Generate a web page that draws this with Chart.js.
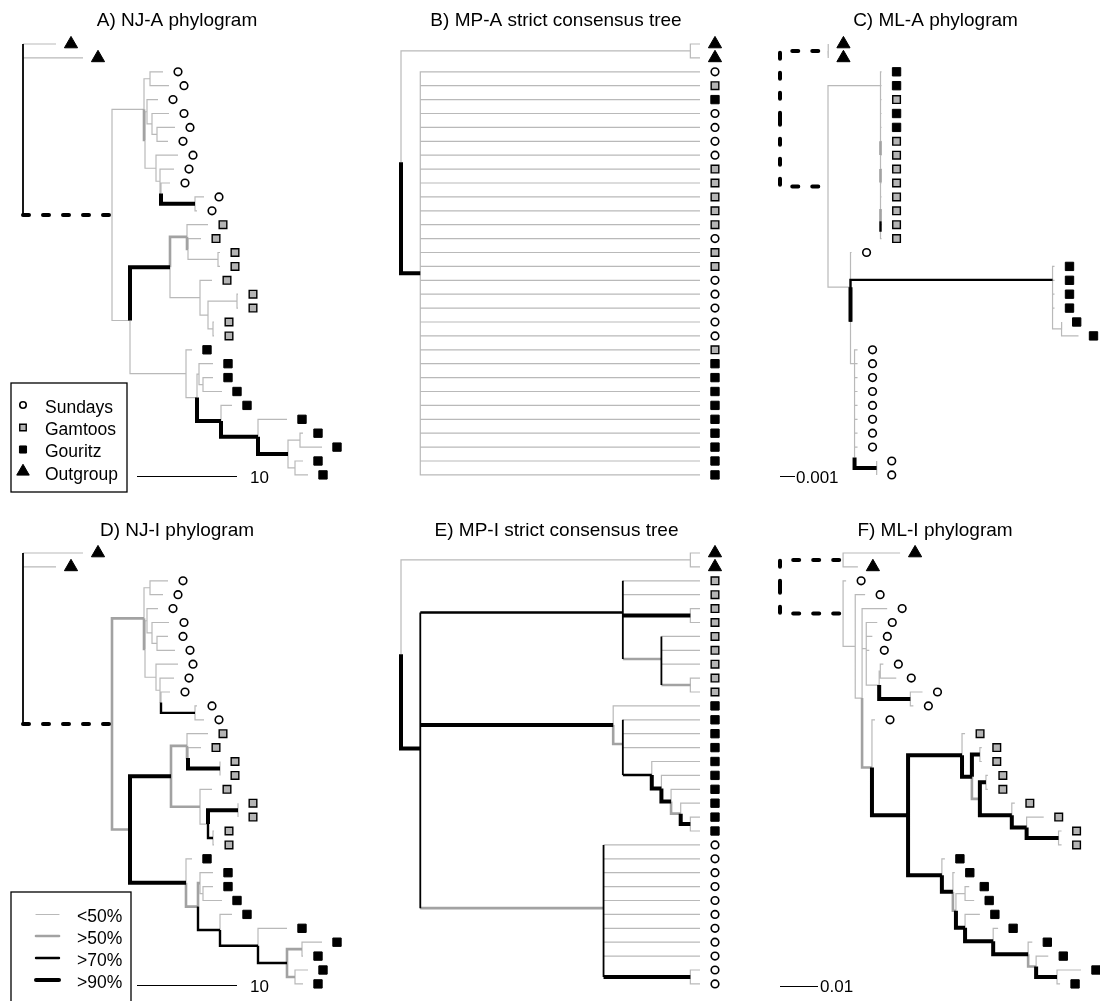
<!DOCTYPE html>
<html>
<head>
<meta charset="utf-8">
<title>Phylogenetic trees</title>
<script src="https://cdn.jsdelivr.net/npm/chart.js@4.4.1/dist/chart.umd.min.js"></script>
<style>
  html, body { margin: 0; padding: 0; background: #ffffff; }
  #figure { position: relative; width: 1100px; height: 1001px; overflow: hidden; background: #ffffff; }
  #figure canvas { position: absolute; }
</style>
</head>
<body>
<div id="figure"></div>
<script>
// ---------------------------------------------------------------------------
// Tree data.
//   tip           = [group, branchLength]
//   internal node = [support, branchLength, [children]]
// support classes: 0 = <50 %, 1 = >50 %, 2 = >70 %, 3 = >90 %,
// CUT = branch shortened for display (drawn dashed).
// MP consensus trees are drawn as cladograms, so their lengths are unused.
// ---------------------------------------------------------------------------
const CUT = 4;

const groupKeys = ['Sun', 'Gam', 'Gou', 'Out'];
const groupLabels = ['Sundays', 'Gamtoos', 'Gouritz', 'Outgroup'];
const supportLabels = ['<50%', '>50%', '>70%', '>90%'];

const panelTitles = [
  'A) NJ-A phylogram',
  'B) MP-A strict consensus tree',
  'C) ML-A phylogram',
  'D) NJ-I phylogram',
  'E) MP-I strict consensus tree',
  'F) ML-I phylogram'
];
const scaleBarLengths = [10, null, 0.001, 10, null, 0.01];
const scaleBarLabels = ['10', null, '0.001', '10', null, '0.01'];

// A) NJ, mtDNA (branch lengths in substitutions)
const treeNJA = [0, 0, [
  ['Out', 3.3],
  ['Out', 6.0],
  [CUT, 8.9, [
    [0, 3.2, [
      [0, 0.6, [['Sun', 1.3], ['Sun', 1.9]]],
      [1, 0.1, [
        [0, 0.2, [
          ['Sun', 1.1],
          [0, 0.5, [
            ['Sun', 1.7],
            [0, 0.5, [['Sun', 1.8], ['Sun', 1.1]]]
          ]]
        ]],
        [0, 1.1, [
          ['Sun', 2.2],
          [0, 0.4, [
            ['Sun', 1.4],
            [0, 0.1, [
              ['Sun', 0.9],
              [3, 3.4, [['Sun', 0.9], ['Sun', 0.2]]]
            ]]
          ]]
        ]]
      ]]
    ]],
    [0, 1.8, [
      [3, 4.0, [
        [1, 1.7, [
          ['Gam', 2.1],
          [1, 0.1, [
            ['Gam', 1.3],
            [0, 3.0, [['Gam', 0.2], ['Gam', 0.2]]]
          ]]
        ]],
        [0, 3.0, [
          ['Gam', 1.2],
          [0, 0.8, [
            [0, 2.9, [['Gam', 0.1], ['Gam', 0.1]]],
            [0, 0.5, [['Gam', 0.1], ['Gam', 0.1]]]
          ]]
        ]]
      ]],
      [0, 5.6, [
        ['Gou', 0.6],
        [0, 1.1, [
          [0, 0.2, [
            ['Gou', 1.4],
            [0, 0.4, [['Gou', 1.0], ['Gou', 1.9]]]
          ]],
          [3, 2.4, [
            ['Gou', 1.1],
            [3, 3.7, [
              ['Gou', 2.9],
              [3, 3.0, [
                [0, 1.2, [['Gou', 0.3], ['Gou', 2.2]]],
                [0, 0.7, [['Gou', 0.8], ['Gou', 1.3]]]
              ]]
            ]]
          ]]
        ]]
      ]]
    ]]
  ]]
]];

// B) MP strict consensus, mtDNA
const treeMPA = [0, 0, [
  [0, 0, [['Out'], ['Out']]],
  [3, 0, [
    ['Sun'], ['Gam'], ['Gou'], ['Sun'], ['Sun'], ['Sun'], ['Sun'], ['Gam'], ['Gam'], ['Gam'],
    ['Gam'], ['Gam'], ['Sun'], ['Gam'], ['Gam'], ['Sun'], ['Sun'], ['Sun'], ['Sun'], ['Sun'],
    ['Gam'], ['Gou'], ['Gou'], ['Gou'], ['Gou'], ['Gou'], ['Gou'], ['Gou'], ['Gou'], ['Gou']
  ]]
]];

// C) ML, mtDNA (substitutions per site)
const treeMLA = [0, 0, [
  [CUT, 0.0032, [['Out', 0.00003], ['Out', 0.00003]]],
  [CUT, 0.0032, [
    [0, 0.0035, [['Gou', 0.00007], [0, 0, [['Gou', 0.00007], [0, 0, [['Gam', 0.00007], [0, 0, [['Gou', 0.00007],
      [0, 0, [['Gou', 0.00007], [1, 0, [['Gam', 0.00007], [0, 0, [['Gam', 0.00007], [1, 0, [['Gam', 0.00007],
      [0, 0, [['Gam', 0.00007], [0, 0, [['Gam', 0.00007], [1, 0, [['Gam', 0.00007],
      [2, 0, [['Gam', 0.00007], ['Gam', 0.00007]]] ]] ]] ]] ]] ]] ]] ]] ]] ]] ]] ]],
    [0, 0.0015, [
      ['Sun', 0.00007],
      [3, 0, [
        [2, 0.01347, [['Gou', 0.00013], [0, 0, [['Gou', 0.00013], [0, 0, [['Gou', 0.00013], [0, 0, [['Gou', 0.00013],
          [0, 0.0006, [['Gou', 0.00001], ['Gou', 0.00113]]] ]] ]] ]] ]],
        [0, 0.00027, [['Sun', 0.0002], [0, 0, [['Sun', 0.0002], [0, 0, [['Sun', 0.0002], [0, 0, [['Sun', 0.0002],
          [0, 0, [['Sun', 0.0002], [0, 0, [['Sun', 0.0002], [0, 0, [['Sun', 0.0002], [0, 0, [['Sun', 0.0002],
          [3, 0.00147, [['Sun', 0.00001], ['Sun', 0.00001]]] ]] ]] ]] ]] ]] ]] ]] ]]
      ]]
    ]]
  ]]
]];

// D) NJ, nuclear intron
const treeNJI = [0, 0, [
  ['Out', 6.0],
  ['Out', 3.3],
  [CUT, 8.9, [
    [1, 3.2, [
      [0, 0.6, [['Sun', 1.8], ['Sun', 1.3]]],
      [1, 0.1, [
        [0, 0.2, [
          ['Sun', 1.1],
          [0, 0.5, [
            ['Sun', 1.7],
            [0, 0.5, [['Sun', 1.1], ['Sun', 1.8]]]
          ]]
        ]],
        [0, 1.1, [
          ['Sun', 2.2],
          [0, 0.4, [
            ['Sun', 1.4],
            [0, 0.1, [
              ['Sun', 0.9],
              [2, 3.4, [['Sun', 0.2], ['Sun', 0.9]]]
            ]]
          ]]
        ]]
      ]]
    ]],
    [1, 1.8, [
      [3, 4.1, [
        [1, 1.6, [
          ['Gam', 2.1],
          [1, 0.1, [
            ['Gam', 1.3],
            [3, 3.2, [['Gam', 0.0], ['Gam', 0.0]]]
          ]]
        ]],
        [1, 2.9, [
          ['Gam', 1.2],
          [0, 0.8, [
            [3, 3.0, [['Gam', 0.0], ['Gam', 0.0]]],
            [2, 0.5, [['Gam', 0.1], ['Gam', 0.1]]]
          ]]
        ]]
      ]],
      [3, 5.6, [
        ['Gou', 0.6],
        [1, 1.2, [
          [1, 0.2, [
            ['Gou', 1.3],
            [0, 0.3, [['Gou', 1.0], ['Gou', 1.9]]]
          ]],
          [2, 2.2, [
            ['Gou', 1.2],
            [2, 3.8, [
              ['Gou', 2.9],
              [2, 2.9, [
                [1, 1.5, [['Gou', 2.0], ['Gou', 0.1]]],
                [1, 0.8, [['Gou', 1.3], ['Gou', 0.8]]]
              ]]
            ]]
          ]]
        ]]
      ]]
    ]]
  ]]
]];

// E) MP strict consensus, nuclear intron
const treeMPI = [0, 0, [
  [0, 0, [['Out'], ['Out']]],
  [3, 0, [
    [2, 0, [
      ['Gam'], ['Gam'],
      [3, 0, [['Gam'], ['Gam']]],
      [1, 0, [['Gam'], ['Gam'], ['Gam'], [1, 0, [['Gam'], ['Gam']]]]]
    ]],
    [3, 0, [
      ['Gou'],
      [1, 0, [
        ['Gou'], ['Gou'], ['Gou'],
        [2, 0, [['Gou'], [3, 0, [['Gou'], [3, 0, [['Gou'], [1, 0, [['Gou'], [3, 0, [['Gou'], ['Gou']]] ]] ]] ]] ]]
      ]]
    ]],
    [1, 0, [
      ['Sun'], ['Sun'], ['Sun'], ['Sun'], ['Sun'], ['Sun'], ['Sun'], ['Sun'], ['Sun'],
      [3, 0, [['Sun'], ['Sun']]]
    ]]
  ]]
]];

// F) ML, nuclear intron (substitutions per site)
const treeMLI = [0, 0, [
  [CUT, 0.0166, [['Out', 0.015], ['Out', 0.0039]]],
  [CUT, 0.0166, [
    ['Sun', 0.0008],
    [0, 0.0032, [
      ['Sun', 0.0026],
      [0, 0.0018, [
        [0, 0, [
          ['Sun', 0.0066],
          [0, 0.0011, [
            [0, 0, [['Sun', 0.0029], ['Sun', 0.0016]]],
            [0, 0, [
              ['Sun', 0.0008],
              [0, 0.0034, [
                [0, 0.0003, [['Sun', 0.0008], ['Sun', 0.0042]]],
                [3, 0.0082, [['Sun', 0.0032], ['Sun', 0.0008]]]
              ]]
            ]]
          ]]
        ]],
        [1, 0.0026, [
          ['Sun', 0.0008],
          [3, 0.0095, [
            [3, 0.0142, [
              ['Gam', 0.0008],
              [3, 0.0026, [
                [3, 0.0021, [['Gam', 0.0005], ['Gam', 0.0005]]],
                [1, 0.0021, [
                  [3, 0.0016, [['Gam', 0.0005], ['Gam', 0.0005]]],
                  [3, 0.0084, [
                    ['Gam', 0.0008],
                    [3, 0.0039, [
                      ['Gam', 0.0045],
                      [3, 0.0084, [['Gam', 0.0008], ['Gam', 0.0008]]]
                    ]]
                  ]]
                ]]
              ]]
            ]],
            [3, 0.0089, [
              ['Gou', 0.0008],
              [3, 0.0029, [
                ['Gou', 0.0005],
                [1, 0.0008, [
                  [0, 0.0024, [['Gou', 0.0011], ['Gou', 0.0024]]],
                  [3, 0.0024, [
                    ['Gou', 0.0039],
                    [3, 0.0074, [
                      ['Gou', 0.0013],
                      [3, 0.0092, [
                        ['Gou', 0.0011],
                        [1, 0.0021, [
                          ['Gou', 0.0032],
                          [3, 0.0055, [['Gou', 0.0063], ['Gou', 0.0008]]]
                        ]]
                      ]]
                    ]]
                  ]]
                ]]
              ]]
            ]]
          ]]
        ]]
      ]]
    ]]
  ]]
]];

// ---------------------------------------------------------------------------
// Styles and page layout
// ---------------------------------------------------------------------------
const FONT = '"Liberation Sans", Arial, Helvetica, sans-serif';
const TIP_STEP = 13.9;     // vertical spacing between tips, px
const MARK_GAP = 15;       // gap between a branch tip and its symbol, px

const EDGE_STYLE = {
  0:    { color: '#b9b9b9', width: 1.2 },
  1:    { color: '#a2a2a2', width: 2.6 },
  2:    { color: '#000000', width: 2.4 },
  3:    { color: '#000000', width: 4.0 },
  4:    { color: '#000000', width: 4.0, dash: [6, 14], cap: 'round' },
  poly: { color: '#000000', width: 1.8 }
};
const EDGE_ORDER = { 0: 6, 1: 5, poly: 4, 2: 3, 3: 2, 4: 1 };

const MARK_STYLE = {
  Sun: { shape: 'circle',   radius: 3.8, fill: '#ffffff', stroke: '#000000', bw: 1.6 },
  Gam: { shape: 'rect',     radius: 5.4, fill: '#b4b4b4', stroke: '#000000', bw: 1.4 },
  Gou: { shape: 'rect',     radius: 5.9, fill: '#000000', stroke: '#000000', bw: 1 },
  Out: { shape: 'triangle', radius: 7.6, fill: '#000000', stroke: '#000000', bw: 1 }
};

const PANELS = [
  { tree: treeNJA, left: 0,   top: 0,   w: 370, h: 500, rootPx: 23,  pxPerUnit: 10,    tip0: 44,
    titleX: 177,   titleY: 26,    legend: 'groups',
    bar: { x: 137, y: 476, labelX: 250, labelY: 482.5 } },
  { tree: treeMPA, cladogram: true, left: 370, top: 0, w: 370, h: 500, rootPx: 401, pxPerUnit: 9.645, tip0: 44,
    titleX: 556,   titleY: 26 },
  { tree: treeMLA, left: 740, top: 0,   w: 360, h: 500, rootPx: 780, pxPerUnit: 15000, tip0: 44,
    titleX: 935.5, titleY: 26,
    bar: { x: 780, y: 476, labelX: 796, labelY: 483 } },
  { tree: treeNJI, left: 0,   top: 500, w: 370, h: 501, rootPx: 23,  pxPerUnit: 10,    tip0: 553,
    titleX: 177,   titleY: 535.5, legend: 'support',
    bar: { x: 137, y: 985, labelX: 250, labelY: 992 } },
  { tree: treeMPI, cladogram: true, left: 370, top: 500, w: 370, h: 501, rootPx: 401, pxPerUnit: 9.645, tip0: 553,
    titleX: 556.5, titleY: 535.5 },
  { tree: treeMLI, left: 740, top: 500, w: 360, h: 501, rootPx: 780, pxPerUnit: 3800,  tip0: 553,
    titleX: 935,   titleY: 535.5,
    bar: { x: 780, y: 986, labelX: 820, labelY: 992 } }
];

// ---------------------------------------------------------------------------
// Tree layout: tips get consecutive rows; a node sits at the mean row of its
// children. Phylograms use cumulative branch length for x, cladograms use
// (number of tips - tips below the node).
// ---------------------------------------------------------------------------
function isTip(n) { return typeof n[0] === 'string'; }
function countTips(n) { return isTip(n) ? 1 : n[2].reduce((s, c) => s + countTips(c), 0); }

function layoutTree(tree, cladogram) {
  const nTip = countTips(tree);
  let row = 0;
  function place(n, parentX) {
    if (isTip(n)) {
      const x = cladogram ? nTip - 1 : parentX + n[1];
      return { tip: true, group: n[0], sup: 0, x: x, y: row++, children: [] };
    }
    const x = cladogram ? nTip - countTips(n) : parentX + n[1];
    const node = { tip: false, sup: n[0], x: x };
    node.children = n[2].map(c => place(c, x));
    node.y = node.children.reduce((s, c) => s + c.y, 0) / node.children.length;
    return node;
  }
  return place(tree, 0);
}

// Edge paths per style, plus tip symbols per group
function collect(root, pxPerUnit) {
  const paths = { 0: [], 1: [], 2: [], 3: [], 4: [], poly: [] };
  const marks = { Sun: [], Gam: [], Gou: [], Out: [] };
  const add = (key, pts) => {
    pts.forEach(p => paths[key].push({ x: p[0], y: p[1] }));
    paths[key].push({ x: null, y: null });
  };
  (function visit(n) {
    if (n.tip) {
      marks[n.group].push({ x: n.x + MARK_GAP / pxPerUnit, y: n.y });
      return;
    }
    const kinds = n.children.map(c => c.sup);
    // multifurcations whose daughters differ get one plain black connector
    const mixed = n.children.length > 2 && kinds.some(k => k !== kinds[0]);
    if (mixed) {
      const ys = n.children.map(c => c.y);
      add('poly', [[n.x, Math.min(...ys)], [n.x, Math.max(...ys)]]);
    }
    n.children.forEach(c => {
      if (mixed) add(c.sup, [[n.x, c.y], [c.x, c.y]]);
      else add(c.sup, [[n.x, n.y], [n.x, c.y], [c.x, c.y]]);
      visit(c);
    });
  })(root);
  return { paths, marks };
}

// ---------------------------------------------------------------------------
// Titles, legends and scale bars
// ---------------------------------------------------------------------------
function drawMark(ctx, key, x, y, k) {
  const m = MARK_STYLE[key];
  const r = m.radius * k;
  ctx.beginPath();
  if (m.shape === 'circle') {
    ctx.arc(x, y, r, 0, Math.PI * 2);
  } else if (m.shape === 'rect') {
    const s = r * Math.SQRT1_2;
    ctx.rect(x - s, y - s, 2 * s, 2 * s);
  } else {
    const a = Math.PI * 2 / 3;
    ctx.moveTo(x, y - r);
    ctx.lineTo(x + Math.sin(a) * r, y - Math.cos(a) * r);
    ctx.lineTo(x + Math.sin(2 * a) * r, y - Math.cos(2 * a) * r);
    ctx.closePath();
  }
  ctx.fillStyle = m.fill;
  ctx.fill();
  ctx.lineWidth = m.bw;
  ctx.strokeStyle = m.stroke;
  ctx.stroke();
}

const decorPlugin = {
  id: 'panelDecor',
  afterDraw(chart, args, opts) {
    const p = PANELS[opts.index];
    const ctx = chart.ctx;
    const ox = p.left, oy = p.top;
    ctx.save();
    ctx.fillStyle = '#000000';
    ctx.textBaseline = 'alphabetic';

    // panel title
    ctx.font = '19px ' + FONT;
    ctx.textAlign = 'center';
    ctx.fillText(panelTitles[opts.index], p.titleX - ox, p.titleY - oy);

    // scale bar, its length taken from the x scale
    ctx.font = '17px ' + FONT;
    ctx.textAlign = 'left';
    if (p.bar) {
      const xs = chart.scales.x;
      const len = xs.getPixelForValue(scaleBarLengths[opts.index]) - xs.getPixelForValue(0);
      ctx.strokeStyle = '#000000';
      ctx.lineWidth = 1;
      ctx.beginPath();
      ctx.moveTo(p.bar.x - ox, p.bar.y - oy + 0.5);
      ctx.lineTo(p.bar.x - ox + len, p.bar.y - oy + 0.5);
      ctx.stroke();
      ctx.fillStyle = '#000000';
      ctx.fillText(scaleBarLabels[opts.index], p.bar.labelX - ox, p.bar.labelY - oy);
    }

    ctx.font = '17.5px ' + FONT;
    if (p.legend === 'groups') {
      ctx.strokeStyle = '#000000';
      ctx.lineWidth = 1.3;
      ctx.strokeRect(11 - ox, 383 - oy, 116, 109);
      const rowY = [405, 427.5, 449.5, 471.5];
      const baseY = [412.7, 435, 457.3, 479.5];
      groupKeys.forEach((key, i) => {
        drawMark(ctx, key, 23 - ox, rowY[i] - oy, key === 'Out' ? 0.95 : 0.85);
        ctx.fillStyle = '#000000';
        ctx.fillText(groupLabels[i], 45 - ox, baseY[i] - oy);
      });
    } else if (p.legend === 'support') {
      ctx.strokeStyle = '#000000';
      ctx.lineWidth = 1.3;
      ctx.strokeRect(11 - ox, 892 - oy, 120, 112);
      const rowY = [914.5, 936, 958, 980];
      const baseY = [921.7, 944, 966, 988];
      [0, 1, 2, 3].forEach(i => {
        const st = EDGE_STYLE[i];
        ctx.strokeStyle = st.color;
        ctx.lineWidth = st.width;
        ctx.lineCap = 'round';
        ctx.beginPath();
        ctx.moveTo(36 - ox, rowY[i] - oy);
        ctx.lineTo(59 - ox, rowY[i] - oy);
        ctx.stroke();
        ctx.fillStyle = '#000000';
        ctx.fillText(supportLabels[i], 77 - ox, baseY[i] - oy);
      });
    }
    ctx.restore();
  }
};

// ---------------------------------------------------------------------------
// One chart per panel
// ---------------------------------------------------------------------------
const fig = document.getElementById('figure');

PANELS.forEach((p, idx) => {
  const canvas = document.createElement('canvas');
  canvas.width = p.w;
  canvas.height = p.h;
  canvas.style.left = p.left + 'px';
  canvas.style.top = p.top + 'px';
  canvas.style.width = p.w + 'px';
  canvas.style.height = p.h + 'px';
  fig.appendChild(canvas);

  const root = layoutTree(p.tree, !!p.cladogram);
  const { paths, marks } = collect(root, p.pxPerUnit);

  const datasets = [];
  Object.keys(paths).forEach(key => {
    if (!paths[key].length) return;
    const st = EDGE_STYLE[key];
    datasets.push({
      type: 'line',
      label: 'edges-' + key,
      data: paths[key],
      borderColor: st.color,
      borderWidth: st.width,
      borderDash: st.dash || [],
      borderCapStyle: st.cap || 'butt',
      borderJoinStyle: 'miter',
      pointRadius: 0,
      pointHoverRadius: 0,
      pointHitRadius: 0,
      fill: false,
      tension: 0,
      spanGaps: false,
      order: EDGE_ORDER[key]
    });
  });
  groupKeys.forEach(key => {
    if (!marks[key].length) return;
    const m = MARK_STYLE[key];
    datasets.push({
      type: 'scatter',
      label: key,
      data: marks[key],
      showLine: false,
      pointStyle: m.shape,
      pointRadius: m.radius,
      pointHoverRadius: m.radius,
      pointBackgroundColor: m.fill,
      pointBorderColor: m.stroke,
      pointBorderWidth: m.bw,
      order: 0
    });
  });

  const xMin = -(p.rootPx - p.left) / p.pxPerUnit;
  const yMin = -(p.tip0 - p.top) / TIP_STEP;

  new Chart(canvas, {
    type: 'scatter',
    data: { datasets },
    options: {
      responsive: false,
      maintainAspectRatio: false,
      devicePixelRatio: 1,
      animation: false,
      events: [],
      layout: { padding: 0, autoPadding: false },
      plugins: {
        legend: { display: false },
        title: { display: false },
        tooltip: { enabled: false },
        panelDecor: { index: idx }
      },
      scales: {
        x: { type: 'linear', display: false, min: xMin, max: xMin + p.w / p.pxPerUnit },
        y: { type: 'linear', display: false, reverse: true, min: yMin, max: yMin + p.h / TIP_STEP }
      }
    },
    plugins: [decorPlugin]
  });
});
</script>
</body>
</html>
